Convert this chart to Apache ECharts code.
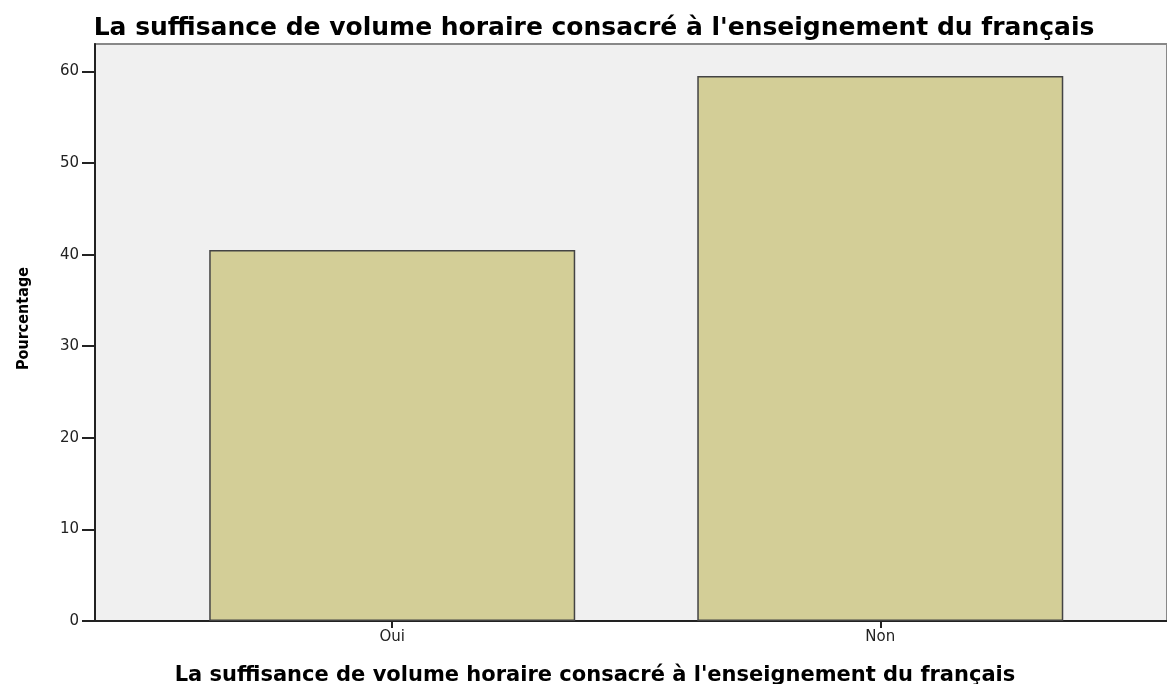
<!DOCTYPE html>
<html>
  <head>
    <meta charset='UTF-8'>
    <title>La suffisance de volume horaire</title>
    <script src="https://cdn.jsdelivr.net/npm/echarts@6/dist/echarts.min.js"></script>
    <style>
      body { margin: 0; background: #fff; }
    </style>
  </head>
  <body>
    <div id="main" style="width: 1167px;height:684px;"></div>
    <script type="text/javascript">
    // donnees du graphique
    var categories = ['Oui', 'Non'];
    var positions = [1, 2];            // position de chaque barre sur l'axe x
    var pourcentages = [40.5, 59.5];
    var yTicks = [0, 10, 20, 30, 40, 50, 60];
    var titre = "La suffisance de volume horaire consacré à l'enseignement du français";

    var barData = [];
    for (var i = 0; i < categories.length; i++) {
        barData.push([positions[i], pourcentages[i]]);
    }

    var myChart = echarts.init(document.getElementById('main'));

    var option = {
        animation: false,
        title: [
            {
                text: titre,
                left: 589,
                textAlign: 'center',
                top: 11,
                textStyle: { fontFamily: 'DejaVu Sans', fontWeight: 'bold', fontSize: 25, color: '#000' }
            },
            {
                text: titre,
                left: 590,
                textAlign: 'center',
                top: 660,
                textStyle: { fontFamily: 'DejaVu Sans', fontWeight: 'bold', fontSize: 21, color: '#000' }
            }
        ],
        grid: {
            left: 95, right: 0, top: 44, bottom: 63,
            show: true,
            backgroundColor: '#f0f0f0',
            borderColor: '#888',
            borderWidth: 2
        },
        xAxis: {
            type: 'value',
            min: 0.391,
            max: 2.5875,
            splitLine: { show: false },
            axisLine: { show: true, lineStyle: { color: '#222', width: 2 } },
            axisTick: { show: true, customValues: positions, length: 7, lineStyle: { color: '#222', width: 2 } },
            axisLabel: {
                customValues: positions,
                margin: 9,
                color: '#222',
                fontFamily: 'DejaVu Sans',
                fontSize: 15,
                formatter: function (v) { return categories[positions.indexOf(v)] || ''; }
            }
        },
        yAxis: {
            type: 'value',
            min: 0,
            max: 63,
            name: 'Pourcentage',
            nameLocation: 'middle',
            nameGap: 63,
            nameRotate: 90,
            nameTextStyle: {
                fontFamily: 'DejaVu Sans Condensed, Liberation Sans, sans-serif',
                fontWeight: 'bold',
                fontSize: 16,
                color: '#000',
                padding: [0, 0, 0, 28]
            },
            splitLine: { show: false },
            axisLine: { show: true, lineStyle: { color: '#222', width: 2 } },
            axisTick: { show: true, customValues: yTicks, length: 13, lineStyle: { color: '#222', width: 2 } },
            axisLabel: {
                customValues: yTicks,
                margin: 16,
                color: '#222',
                fontFamily: 'DejaVu Sans',
                fontSize: 15
            }
        },
        series: [
            {
                type: 'bar',
                data: barData,
                barWidth: 366,
                itemStyle: { color: '#d3ce97', borderColor: '#444', borderWidth: 1.5 }
            }
        ]
    };
    myChart.setOption(option, true);
    </script>
  </body>
</html>
